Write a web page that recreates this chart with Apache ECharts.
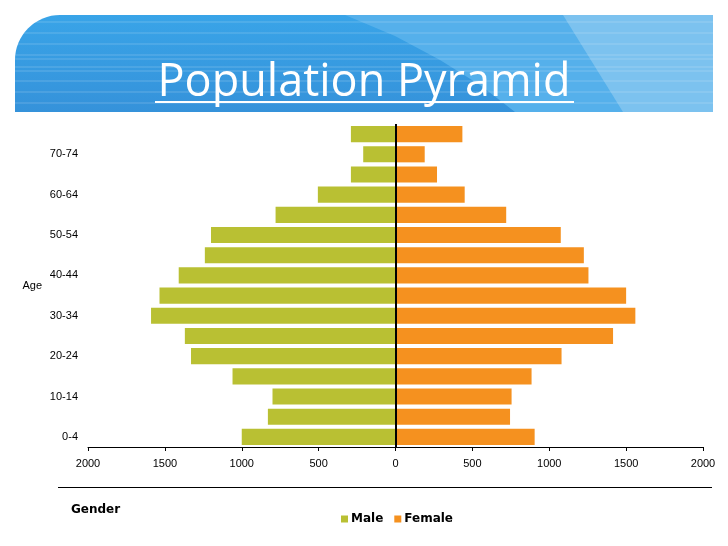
<!DOCTYPE html>
<html>
<head>
<meta charset="utf-8">
<script src="https://cdn.jsdelivr.net/npm/echarts@6/dist/echarts.min.js"></script>
<style>
html,body{margin:0;padding:0;background:#fff;}
#chart{width:728px;height:546px;}
</style>
</head>
<body>
<div id="chart"></div>
<script>
// ---- data ----
const ageGroups = ['0-4','5-9','10-14','15-19','20-24','25-29','30-34','35-39','40-44','45-49','50-54','55-59','60-64','65-69','70-74','75-79'];
const maleValues = [1000, 830, 800, 1060, 1330, 1370, 1590, 1535, 1410, 1240, 1200, 780, 505, 290, 210, 290];
const femaleValues = [905, 745, 755, 885, 1080, 1415, 1560, 1500, 1255, 1225, 1075, 720, 450, 270, 190, 435];
const xTicks = [-2000, -1500, -1000, -500, 0, 500, 1000, 1500, 2000];
const titleText = 'Population Pyramid';
const seriesNames = ['Male', 'Female'];

const MALE_COLOR = '#b9c033';
const FEMALE_COLOR = '#f5911f';

const chart = echarts.init(document.getElementById('chart'), null, {renderer: 'canvas'});

// banner stripe lines
const stripeYs = [22, 33, 44, 55, 59, 67, 71, 81, 92, 103];
const stripes = stripeYs.map(y => ({
  type: 'line', silent: true, z: 3,
  shape: {x1: 15, y1: y, x2: 713, y2: y},
  style: {stroke: 'rgba(255,255,255,0.22)', lineWidth: 1}
}));

const option = {
  animation: false,
  backgroundColor: '#ffffff',
  textStyle: {fontFamily: 'Liberation Sans, Arial, sans-serif'},
  graphic: [
    {
      type: 'rect', silent: true, z: 1,
      shape: {x: 15, y: 15, width: 698, height: 97, r: [45, 0, 0, 0]},
      style: {fill: new echarts.graphic.LinearGradient(0, 0, 0, 1, [
        {offset: 0, color: '#39a4e8'}, {offset: 1, color: '#3592da'}])}
    },
    {
      type: 'polygon', silent: true, z: 2,
      shape: {points: [[345, 15], [395, 36], [440, 60], [480, 85], [515, 112], [713, 112], [713, 15]]},
      style: {fill: '#55b0eb'}
    },
    {
      type: 'polygon', silent: true, z: 2,
      shape: {points: [[563, 15], [623, 112], [713, 112], [713, 15]]},
      style: {fill: '#7cc2ef'}
    },
    ...stripes,
    {
      type: 'text', silent: true, z: 5,
      style: {
        x: 364, y: 83, text: titleText, fill: '#ffffff',
        font: '45px "Open Sans", Lato, sans-serif',
        textAlign: 'center', textVerticalAlign: 'middle'
      }
    },
    {
      type: 'rect', silent: true, z: 5,
      shape: {x: 155, y: 101, width: 419, height: 2},
      style: {fill: '#ffffff'}
    },
    {
      type: 'line', silent: true, z: 5,
      shape: {x1: 58, y1: 487.5, x2: 712, y2: 487.5},
      style: {stroke: '#000000', lineWidth: 1}
    },
    {
      type: 'text', silent: true, z: 5,
      style: {
        x: 71, y: 510, text: 'Gender', fill: '#000000',
        font: 'bold 12px "DejaVu Sans", sans-serif',
        textAlign: 'left', textVerticalAlign: 'middle'
      }
    }
  ],
  legend: {
    data: seriesNames,
    left: 336,
    top: 508,
    itemWidth: 7,
    itemHeight: 7,
    itemGap: 11,
    icon: 'rect',
    selectedMode: false,
    textStyle: {fontFamily: '"DejaVu Sans", sans-serif', fontWeight: 'bold', fontSize: 12, color: '#000', padding: [0, 0, 0, -2]}
  },
  grid: {left: 88, right: 25, top: 124, bottom: 99, containLabel: false},
  xAxis: {
    type: 'value',
    min: -2000, max: 2000, interval: 500,
    axisLine: {show: true, onZero: false, lineStyle: {color: '#000', width: 1}},
    axisTick: {show: true, length: 4, lineStyle: {color: '#000'}},
    splitLine: {show: false},
    axisLabel: {
      color: '#000', fontSize: 11, margin: 11,
      formatter: v => String(Math.abs(v))
    }
  },
  yAxis: {
    type: 'category',
    data: ageGroups,
    name: 'Age',
    nameLocation: 'middle',
    nameRotate: 0,
    nameGap: 46,
    nameTextStyle: {color: '#000', fontSize: 11, align: 'right'},
    axisLine: {show: false},
    axisTick: {show: false},
    axisLabel: {color: '#000', fontSize: 11, interval: 1, margin: 10}
  },
  series: [
    {
      name: seriesNames[0], type: 'bar', stack: 'pop',
      barCategoryGap: '20%',
      itemStyle: {color: MALE_COLOR},
      data: maleValues.map(v => -v),
      markLine: {
        silent: true, symbol: 'none', label: {show: false},
        lineStyle: {color: '#000', width: 2, type: 'solid'},
        data: [{xAxis: 0}]
      },
      z: 2
    },
    {
      name: seriesNames[1], type: 'bar', stack: 'pop',
      barCategoryGap: '20%',
      itemStyle: {color: FEMALE_COLOR},
      data: femaleValues,
      z: 2
    }
  ]
};
chart.setOption(option);
</script>
</body>
</html>
